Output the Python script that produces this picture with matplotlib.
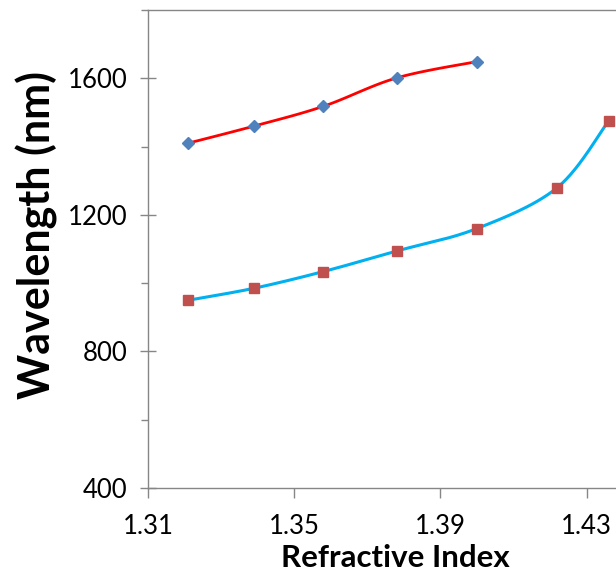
import numpy as np
import matplotlib
matplotlib.use("Agg")
from matplotlib import pyplot as plt
from matplotlib.ticker import MultipleLocator

plt.rcParams['font.family'] = ['Lato', 'DejaVu Sans']

# data
ri_upper = [1.321, 1.339, 1.358, 1.378, 1.400]
wl_upper = [1410, 1460, 1518, 1601, 1649]

ri_lower = [1.321, 1.339, 1.358, 1.378, 1.400, 1.422, 1.436]
wl_lower = [950, 985, 1034, 1094, 1160, 1280, 1475]

x_ticks = [1.31, 1.35, 1.39, 1.43]
y_ticks = [400, 800, 1200, 1600]


def smooth(x, y, n=30):
    # Catmull-Rom style curve through the points (like a spreadsheet "smoothed line")
    x = np.asarray(x, float)
    y = np.asarray(y, float)
    px = np.concatenate([[x[0]], x, [x[-1]]])
    py = np.concatenate([[y[0]], y, [y[-1]]])
    xs, ys = [], []
    t = np.linspace(0, 1, n)
    for i in range(1, len(px) - 2):
        for p, out in ((px, xs), (py, ys)):
            p0, p1, p2, p3 = p[i - 1], p[i], p[i + 1], p[i + 2]
            b1 = p1 + (p2 - p0) / 6
            b2 = p2 - (p3 - p1) / 6
            out.extend((1 - t) ** 3 * p1 + 3 * (1 - t) ** 2 * t * b1
                       + 3 * (1 - t) * t ** 2 * b2 + t ** 3 * p2)
    return np.array(xs), np.array(ys)


fig = plt.figure(figsize=(6.16, 5.79), dpi=100)
ax = fig.add_axes([148 / 616, 91 / 579, 511.7 / 616, 478 / 579])

sx, sy = smooth(ri_upper, wl_upper)
ax.plot(sx, sy, color='#FF0000', lw=2.0, zorder=2)
ax.plot(ri_upper, wl_upper, ls='none', marker='D', ms=6.5, color='#4F81BD', zorder=3)

sx, sy = smooth(ri_lower, wl_lower)
ax.plot(sx, sy, color='#00B0F0', lw=2.2, zorder=2)
ax.plot(ri_lower, wl_lower, ls='none', marker='s', ms=7, color='#C0504D', zorder=3)

ax.set_xlim(1.31, 1.45)
ax.set_ylim(400, 1800)
ax.set_xticks(x_ticks)
ax.set_xticklabels([f"{v:.2f}" for v in x_ticks])
ax.set_yticks(y_ticks)
ax.yaxis.set_minor_locator(MultipleLocator(200))

for s in ax.spines.values():
    s.set_color('#868686')
    s.set_linewidth(1.0)

ax.tick_params(axis='y', which='major', direction='inout', length=12, width=1,
               color='#868686', labelsize=18.5, pad=9)
ax.tick_params(axis='y', which='minor', direction='out', length=5, width=1,
               color='#868686')
ax.tick_params(axis='x', which='major', direction='out', length=7, width=1,
               color='#868686', labelsize=18.5, pad=12)

ax.set_xlabel('Refractive Index', fontsize=22.5, fontweight='bold', labelpad=3)
ax.set_ylabel('Wavelength (nm)', fontsize=31, fontweight='bold', labelpad=7)
# labels sit centred on the visible part of the plot, not the full axes
ax.xaxis.label.set_x(0.483)
ax.yaxis.label.set_y(0.53)

fig.savefig('out.png', dpi=100)
